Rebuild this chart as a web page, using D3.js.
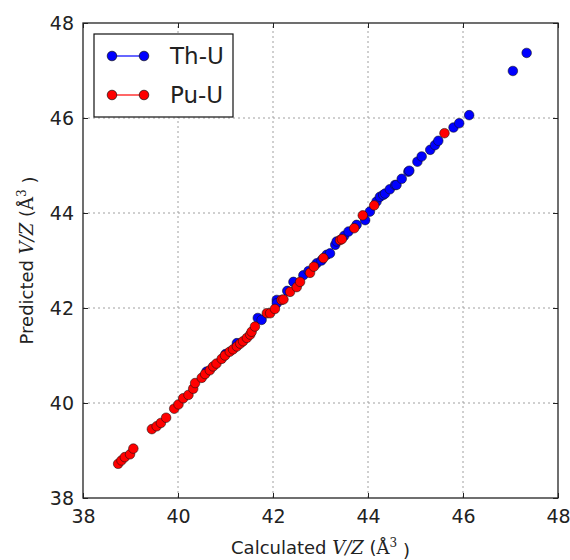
<!DOCTYPE html>
<html lang="en">
<head>
<meta charset="utf-8">
<title>V/Z parity</title>
<script src="https://cdn.jsdelivr.net/npm/d3@7"></script>
<style>
body { margin: 0; background: white; }
text { font-family: "DejaVu Sans", sans-serif; fill: #222; }
</style>
</head>
<body>
<script>

// Th-U series : calculated V/Z, predicted V/Z
var thuCalc = [40.60, 41.00, 41.24, 41.68, 41.76, 42.08, 42.08, 42.30, 42.43, 42.64,
               42.75, 42.92, 43.02, 43.13, 43.20, 43.31, 43.34, 43.50, 43.59, 43.76,
               43.94, 44.04, 44.18, 44.25, 44.32, 44.36, 44.46, 44.57, 44.60, 44.71,
               44.85, 44.87, 45.04, 45.13, 45.31, 45.41, 45.48, 45.80, 45.92, 46.13,
               47.05, 47.34];
var thuPred = [40.66, 41.03, 41.26, 41.79, 41.75, 42.17, 42.10, 42.36, 42.55, 42.69,
               42.78, 42.94, 43.00, 43.12, 43.15, 43.33, 43.40, 43.52, 43.61, 43.75,
               43.85, 44.03, 44.24, 44.34, 44.38, 44.41, 44.50, 44.59, 44.59, 44.72,
               44.87, 44.89, 45.08, 45.19, 45.33, 45.43, 45.52, 45.80, 45.89, 46.06,
               46.99, 47.37];

// Pu-U series
var puuCalc = [38.74, 38.81, 38.88, 38.99, 39.06, 39.45, 39.55, 39.64, 39.75, 39.92,
               40.01, 40.11, 40.22, 40.32, 40.36, 40.50, 40.57, 40.67, 40.74, 40.81,
               40.92, 40.99, 41.09, 41.16, 41.24, 41.31, 41.37, 41.45, 41.52, 41.55,
               41.62, 41.87, 41.94, 42.04, 42.18, 42.22, 42.36, 42.50, 42.57, 42.78,
               42.86, 43.06, 43.41, 43.45, 43.71, 43.89, 44.13, 45.61];
var puuPred = [38.72, 38.79, 38.86, 38.92, 39.04, 39.45, 39.51, 39.58, 39.69, 39.88,
               39.97, 40.10, 40.17, 40.30, 40.42, 40.53, 40.61, 40.69, 40.77, 40.83,
               40.93, 41.00, 41.08, 41.13, 41.19, 41.25, 41.30, 41.37, 41.44, 41.50,
               41.61, 41.89, 41.89, 41.98, 42.17, 42.18, 42.34, 42.44, 42.55, 42.74,
               42.87, 43.05, 43.43, 43.45, 43.68, 43.95, 44.16, 45.68];

var ticks = [38, 40, 42, 44, 46, 48];
var seriesNames = ["Th-U", "Pu-U"];
var seriesColors = ["#0000ff", "#ff0000"];

var W = 570, H = 560;
var margin = {left: 83, top: 23, right: 12, bottom: 62};

var svg = d3.select("body").append("svg")
  .attr("width", W)
  .attr("height", H);

var x = d3.scaleLinear().domain([38, 48]).range([margin.left, W - margin.right]);
var y = d3.scaleLinear().domain([38, 48]).range([H - margin.bottom, margin.top]);

/* dotted grid */
var grid = svg.append("g");
grid.selectAll(".gx").data(ticks.slice(1, -1)).enter().append("line")
  .attr("x1", function(d) { return x(d); }).attr("x2", function(d) { return x(d); })
  .attr("y1", y(38)).attr("y2", y(48))
  .style("stroke", "#a0a0a0").style("stroke-dasharray", "2,3").style("stroke-width", 1);
grid.selectAll(".gy").data(ticks.slice(1, -1)).enter().append("line")
  .attr("y1", function(d) { return y(d); }).attr("y2", function(d) { return y(d); })
  .attr("x1", x(38)).attr("x2", x(48))
  .style("stroke", "#a0a0a0").style("stroke-dasharray", "2,3").style("stroke-width", 1);

/* axes: ticks inward on all four sides */
var tl = 5;
svg.append("g").attr("transform", "translate(0," + y(38) + ")")
  .call(d3.axisBottom(x).tickValues(ticks).tickSize(-tl).tickPadding(12))
  .call(function(g) { g.select(".domain").remove(); });
svg.append("g").attr("transform", "translate(0," + y(48) + ")")
  .call(d3.axisTop(x).tickValues(ticks).tickSize(-tl).tickFormat(""))
  .call(function(g) { g.select(".domain").remove(); });
svg.append("g").attr("transform", "translate(" + x(38) + ",0)")
  .call(d3.axisLeft(y).tickValues(ticks).tickSize(-tl).tickPadding(9))
  .call(function(g) { g.select(".domain").remove(); });
svg.append("g").attr("transform", "translate(" + x(48) + ",0)")
  .call(d3.axisRight(y).tickValues(ticks).tickSize(-tl).tickFormat(""))
  .call(function(g) { g.select(".domain").remove(); });

svg.selectAll(".tick line").style("stroke", "#222");
svg.selectAll(".tick text").style("font-size", "19px").style("font-family", "DejaVu Sans").style("fill", "#222");

/* points: Th-U below, Pu-U on top */
var sets = [
  d3.zip(thuCalc, thuPred),
  d3.zip(puuCalc, puuPred)
];
sets.forEach(function(pts, i) {
  svg.append("g").selectAll("circle").data(pts).enter().append("circle")
    .attr("cx", function(d) { return x(d[0]); })
    .attr("cy", function(d) { return y(d[1]); })
    .attr("r", 4.8)
    .style("fill", seriesColors[i])
    .style("stroke", "#111")
    .style("stroke-opacity", 0.8)
    .style("stroke-width", 0.7);
});

/* frame */
svg.append("rect")
  .attr("x", x(38)).attr("y", y(48))
  .attr("width", x(48) - x(38)).attr("height", y(38) - y(48))
  .style("fill", "none").style("stroke", "#222").style("stroke-width", 1.3);

/* legend */
var leg = svg.append("g");
leg.append("rect")
  .attr("x", 94).attr("y", 34).attr("width", 139).attr("height", 83)
  .style("fill", "white").style("stroke", "#111").style("stroke-width", 1.2);
seriesNames.forEach(function(name, i) {
  var ly = 56 + i * 39;
  leg.append("line").attr("x1", 112).attr("x2", 144).attr("y1", ly).attr("y2", ly)
    .style("stroke", seriesColors[i]).style("stroke-width", 1.2);
  [112, 144].forEach(function(cx) {
    leg.append("circle").attr("cx", cx).attr("cy", ly).attr("r", 4.8)
      .style("fill", seriesColors[i]).style("stroke", "#111").style("stroke-width", 0.7);
  });
  leg.append("text").attr("x", 170).attr("y", ly).attr("dy", "0.36em")
    .style("font-size", "23px").text(name);
});

/* axis labels with math parts */
function mathLabel(t) {
  t.append("tspan").text("Calculated ");
  t.append("tspan").style("font-family", "DejaVu Serif").style("font-style", "italic").text("V/Z");
  t.append("tspan").text(" (");
  t.append("tspan").style("font-family", "DejaVu Serif").text("Å");
  t.append("tspan").attr("dy", "-0.55em").style("font-size", "12px").style("font-family", "DejaVu Serif").text("3");
  t.append("tspan").attr("dy", "0.55em").text(" )");
}
var xl = svg.append("text").attr("x", (x(38) + x(48)) / 2).attr("y", 554)
  .attr("text-anchor", "middle").style("font-size", "18px");
mathLabel(xl);

var yl = svg.append("text")
  .attr("transform", "translate(33," + (y(38) + y(48)) / 2 + ") rotate(-90)")
  .attr("text-anchor", "middle").style("font-size", "18px");
mathLabel(yl);
yl.select("tspan").text("Predicted ");

</script>
</body>
</html>
